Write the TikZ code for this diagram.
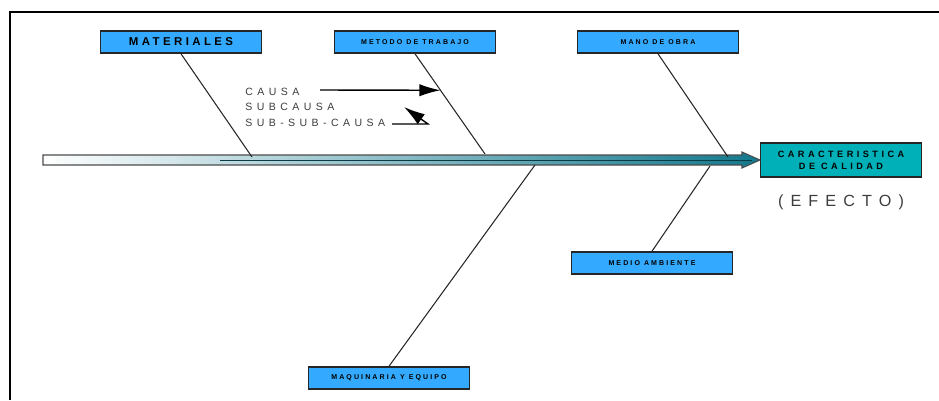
\documentclass[tikz,border=0pt]{standalone}
\usepackage{fontspec}
\setmainfont{Liberation Sans}
\usetikzlibrary{arrows.meta,calc}

\definecolor{cajaazul}{RGB}{51,170,255}
\definecolor{cajaverde}{RGB}{0,176,184}
\definecolor{espina}{RGB}{18,120,140}
\definecolor{letra}{RGB}{60,60,60}

\begin{document}
\begin{tikzpicture}[x=0.02cm,y=-0.02cm,
  caja/.style={draw=black!85,line width=0.9pt,fill=cajaazul,minimum width=3.22cm,minimum height=0.44cm,inner sep=0pt,
    font=\bfseries\fontsize{4}{5}\selectfont\addfontfeatures{LetterSpace=30}},
  leyenda/.style={anchor=west,inner sep=0pt,text=letra,font=\fontsize{6}{7}\selectfont\addfontfeatures{LetterSpace=42}},
  hueso/.style={draw=black!85,line width=0.6pt},
  flecha/.style={line width=0.8pt,-{Latex[length=12pt,width=7pt]}}]
\useasboundingbox (0,0) rectangle (939,400);

% marco
\draw[line width=1.6pt] (10,400) -- (10,12) -- (939,12);

% cajas
\node[caja,font=\bfseries\fontsize{6.5}{7}\selectfont\addfontfeatures{LetterSpace=30}] (mat) at (181,42) {MATERIALES};
\node[caja] (met) at (415,42) {METODO DE TRABAJO};
\node[caja] (mano) at (658,42) {MANO DE OBRA};
\node[caja] (medio) at (652,263) {MEDIO AMBIENTE};
\node[caja] (maq) at (389,378) {MAQUINARIA Y EQUIPO};
\node[caja,fill=cajaverde,minimum height=0.68cm,align=center,
  font=\bfseries\fontsize{5.2}{7}\selectfont\addfontfeatures{LetterSpace=38}] (car) at (841,160) {CARACTERISTICA\\DE CALIDAD};
\node[text=letra,font=\fontsize{9.2}{11}\selectfont\addfontfeatures{LetterSpace=44}] (efecto) at (841,202) {(EFECTO)};

% espina
\shade[left color=white,middle color=espina!75!cajaverde,right color=espina,draw=black!70,line width=0.6pt]
  (43,155) -- (742,155) -- (742,152) -- (760,160) -- (742,168) -- (742,165) -- (43,165) -- cycle;
\draw[espina!50!black,line width=0.5pt] (220,160) -- (752,160);

\coordinate (p1) at (252,157);
\coordinate (p2) at (485,154);
\coordinate (p3) at (728,157);
\coordinate (p4) at (710,166);
\coordinate (p5) at (535,165);

\draw[hueso] (mat.south) -- (p1);
\draw[hueso] (met.south) -- (p2);
\draw[hueso] (mano.south) -- (p3);
\draw[hueso] (medio.north) -- (p4);
\draw[hueso] (maq.north) -- (p5);

% leyenda
\node[leyenda] (causa) at (245,92) {CAUSA};
\node[leyenda] (subcausa) at (245,107) {SUBCAUSA};
\node[leyenda] (subsub) at (245,123) {SUB-SUB-CAUSA};

\coordinate (c1) at (320,90);
\coordinate (c2) at ($(met.south)!0.364!(p2)$);
\draw[flecha] (c1) -- (c2);

\coordinate (s1) at (392,124);
\coordinate (s2) at (428,124);
\coordinate (s3) at (404,107);
\draw[flecha] (s1) -- (s2) -- (s3);
\end{tikzpicture}
\end{document}
